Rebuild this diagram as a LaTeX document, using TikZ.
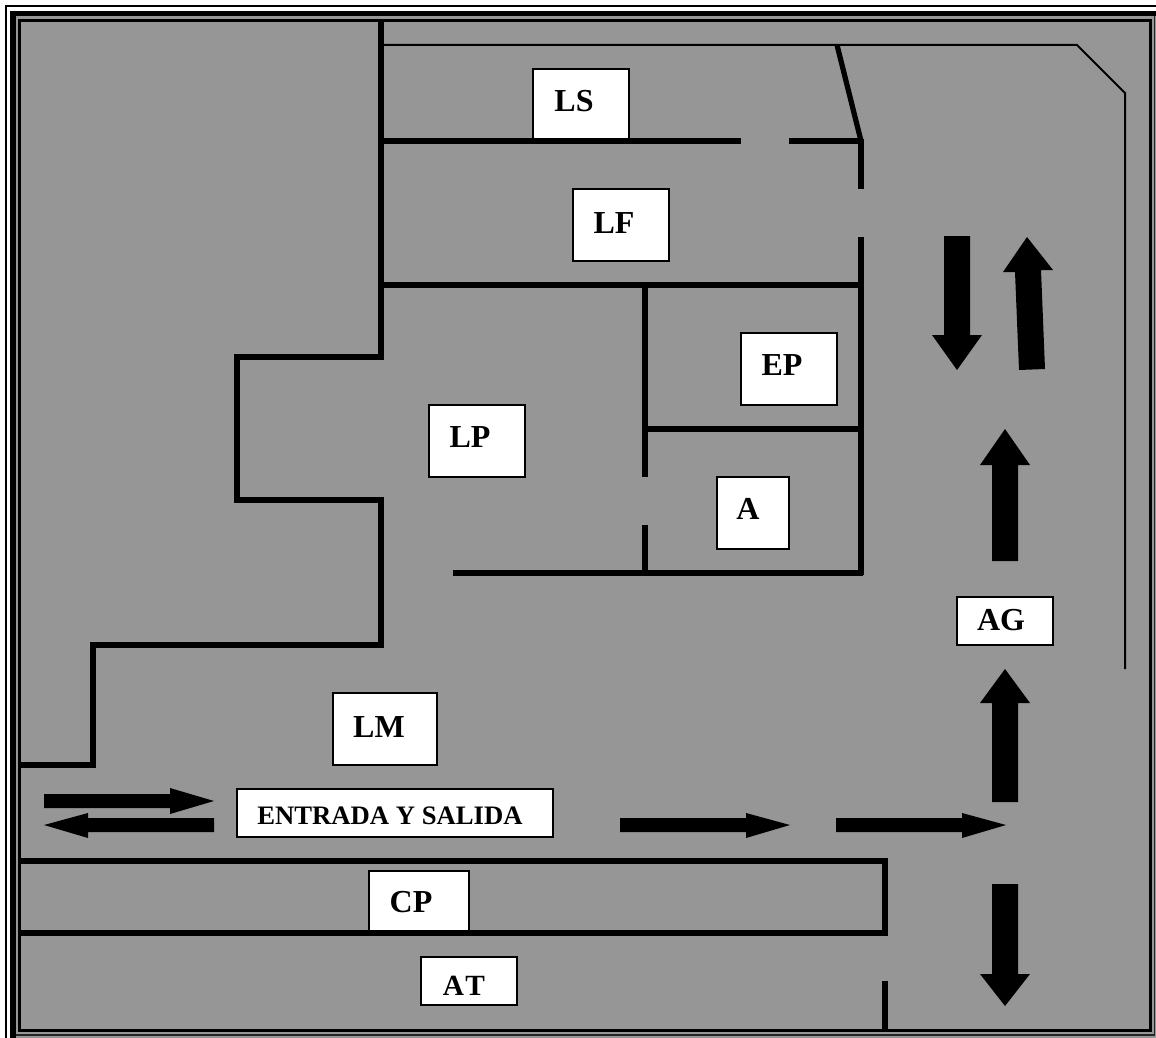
\documentclass[tikz,border=0pt]{standalone}
\usepackage{fontspec}
\setmainfont{Liberation Serif}
\definecolor{floorgrey}{HTML}{969696}
\tikzset{
  wall/.style={line width=3.9pt,line cap=butt,line join=miter,black},
  thinwall/.style={line width=1.5pt,line join=miter,black},
  room/.style={draw=black,line width=1pt,fill=white,inner sep=0pt,outer sep=0pt,anchor=north west},
  roomtext/.style={font=\bfseries\fontsize{24pt}{26pt}\selectfont,inner sep=0pt,text=black},
  smalltext/.style={font=\bfseries\fontsize{20pt}{22pt}\selectfont,inner sep=0pt,text=black},
  attext/.style={font=\bfseries\fontsize{22pt}{24pt}\selectfont,inner sep=0pt,text=black},
  blockarrow/.style={fill=black,draw=none}
}
\newcommand{\roombox}[5]{%
  \node[room,minimum width=#4*0.75pt,minimum height=#5*0.75pt] (#1) at (#2,#3) {};}
\begin{document}
\begin{tikzpicture}[x=0.75pt,y=-0.75pt]
\useasboundingbox (0,0) rectangle (1156,1038);
% frame
\fill[white] (0,0) rectangle (1156,1038);
\fill[black] (5,5) rectangle (1156,1038);
\fill[white] (7,7) rectangle (1156,1038);
\fill[black] (10,11) rectangle (1156,1038);
\fill[floorgrey] (16,16) rectangle (1156,1038);
\fill[black!75!floorgrey] (16,16) rectangle (1155,1036);
\fill[floorgrey] (16,16) rectangle (1154,1034);
\fill[black] (18,19) rectangle (1152,1032);
\fill[floorgrey] (21,22) rectangle (1149,1029);
% walls
\draw[wall] (381,21) -- (381,357) -- (237,357) -- (237,500) -- (381,500) -- (381,645) -- (93,645) -- (93,765) -- (20,765);
\draw[wall] (381,141) -- (741,141);
\draw[wall] (789,141) -- (861,141);
\draw[wall] (837,45) -- (861,141);
\draw[wall] (861,139) -- (861,189);
\draw[wall] (861,237) -- (861,575);
\draw[wall] (381,285) -- (861,285);
\draw[wall] (645,285) -- (645,477);
\draw[wall] (645,525) -- (645,573);
\draw[wall] (645,429) -- (861,429);
\draw[wall] (453,573) -- (863,573);
\draw[wall] (20,861) -- (885,861) -- (885,933) -- (20,933);
\draw[wall] (885,981) -- (885,1030);
\draw[thinwall] (381,45) -- (1077,45) -- (1125,93) -- (1125,669);
% rooms
\roombox{ls}{533}{69}{96}{70}
\roombox{lf}{573}{189}{96}{72}
\roombox{ep}{741}{333}{96}{72}
\roombox{lp}{429}{405}{96}{72}
\roombox{a}{717}{477}{72}{72}
\roombox{ag}{957}{597}{96}{48}
\roombox{lm}{333}{693}{104}{72}
\roombox{es}{237}{789}{316}{48}
\roombox{cp}{369}{871}{100}{60}
\roombox{at}{421}{957}{96}{48}
\node[roomtext] (tls) at (574,101) {LS};
\node[roomtext] (tlf) at (614,223) {LF};
\node[roomtext] (tep) at (782,365) {EP};
\node[roomtext] (tlp) at (470,437) {LP};
\node[roomtext] (ta) at (748,509) {A};
\node[roomtext] (tag) at (1001,620) {AG};
\node[roomtext] (tlm) at (379,727) {LM};
\node[smalltext] (tes) at (390,816) {ENTRADA Y SALIDA};
\node[roomtext] (tcp) at (411,902) {CP};
\node[attext] (tat) at (464,986) {A\kern1pt T};
% arrows
\fill[blockarrow] (944,236) -- (970,236) -- (970,335) -- (982,335) -- (957,370) -- (932,335) -- (944,335) -- cycle;
\fill[blockarrow] (1027,237) -- (1053,270) -- (1041,270) -- (1045,369) -- (1019,370) -- (1015,272) -- (1003,272) -- cycle;
\fill[blockarrow] (1005,429) -- (1030,465) -- (1018,465) -- (1018,561) -- (992,561) -- (992,465) -- (980,465) -- cycle;
\fill[blockarrow] (1005,669) -- (1030,703) -- (1018,703) -- (1018,802) -- (992,802) -- (992,703) -- (980,703) -- cycle;
\fill[blockarrow] (992,884) -- (1018,884) -- (1018,974) -- (1030,974) -- (1005,1006) -- (980,974) -- (992,974) -- cycle;
\fill[blockarrow] (836,818) -- (962,818) -- (962,813) -- (1006,825) -- (962,838) -- (962,832) -- (836,832) -- cycle;
\fill[blockarrow] (620,818) -- (746,818) -- (746,813) -- (790,825) -- (746,838) -- (746,832) -- (620,832) -- cycle;
\fill[blockarrow] (44,794) -- (170,794) -- (170,788) -- (214,801) -- (170,814) -- (170,808) -- (44,808) -- cycle;
\fill[blockarrow] (214,818) -- (88,818) -- (88,813) -- (44,825) -- (88,838) -- (88,832) -- (214,832) -- cycle;
\end{tikzpicture}
\end{document}
